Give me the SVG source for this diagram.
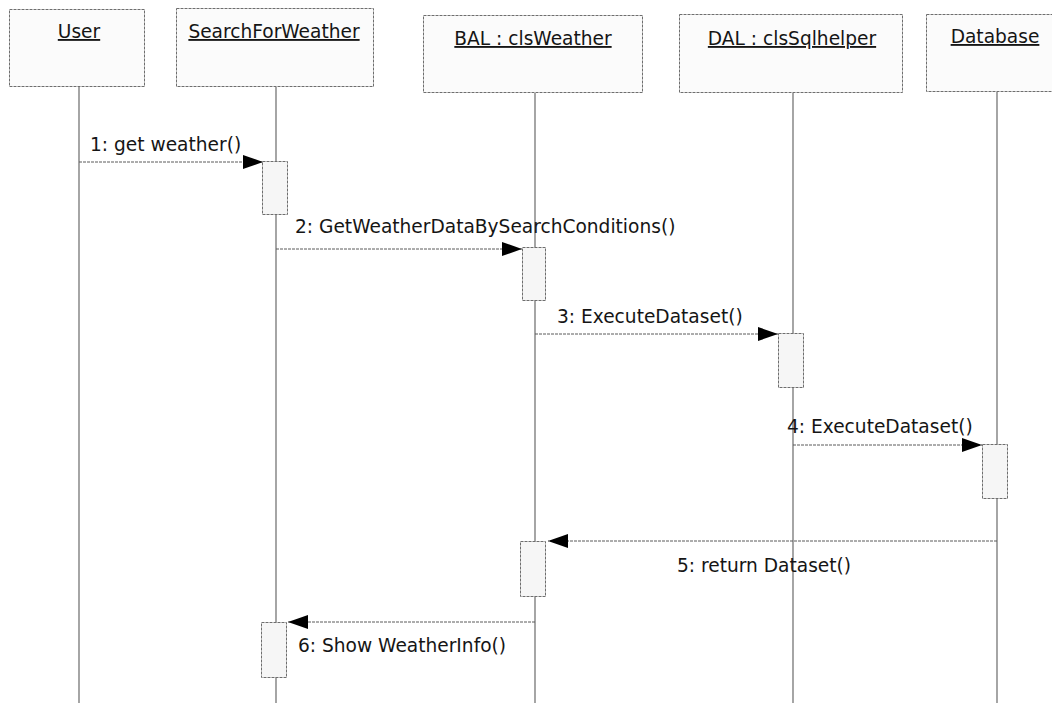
<svg xmlns="http://www.w3.org/2000/svg" width="1052" height="706" viewBox="0 0 1052 706">
  <style>
    .obj { fill: #fbfbfb; stroke: #6e6e6e; stroke-width: 1; stroke-dasharray: 3 1; }
    .act { fill: #f6f6f6; stroke: #6e6e6e; stroke-width: 1; stroke-dasharray: 3 1; }
    .life { stroke: #6a6a6a; stroke-width: 1.2; fill: none; }
    .msg { stroke: #5a5a5a; stroke-width: 1; stroke-dasharray: 3 1; fill: none; marker-end: url(#head); }
    .title { font-family: "DejaVu Sans", Verdana, sans-serif; font-size: 18.6px; fill: #151515; text-anchor: middle; text-decoration: underline; }
    .label { font-family: "DejaVu Sans", Verdana, sans-serif; font-size: 18.6px; fill: #151515; }
  </style>
  <defs>
    <marker id="head" markerUnits="userSpaceOnUse" markerWidth="20" markerHeight="14" refX="20" refY="7" orient="auto">
      <path d="M0,0 L20,7 L0,14 z" fill="#000"/>
    </marker>
  </defs>
  <rect width="1052" height="706" fill="#ffffff"/>

  <!-- lifelines -->
  <g id="lifelines">
    <line class="life" x1="79" y1="87" x2="79" y2="703"/>
    <line class="life" x1="276" y1="87" x2="276" y2="703"/>
    <line class="life" x1="535" y1="93" x2="535" y2="703"/>
    <line class="life" x1="793" y1="93" x2="793" y2="703"/>
    <line class="life" x1="997" y1="92" x2="997" y2="703"/>
  </g>

  <!-- objects -->
  <g id="user">
    <rect class="obj" x="9.5" y="9.5" width="135" height="77"/>
    <text class="title" x="79" y="38">User</text>
  </g>
  <g id="search-for-weather">
    <rect class="obj" x="176.5" y="8.5" width="197" height="78"/>
    <text class="title" x="274" y="38">SearchForWeather</text>
  </g>
  <g id="bal-clsweather">
    <rect class="obj" x="423.5" y="15.5" width="219" height="77"/>
    <text class="title" x="533" y="45">BAL : clsWeather</text>
  </g>
  <g id="dal-clssqlhelper">
    <rect class="obj" x="679.5" y="14.5" width="223" height="78"/>
    <text class="title" x="792" y="45">DAL : clsSqlhelper</text>
  </g>
  <g id="database">
    <rect class="obj" x="926.5" y="14.5" width="140" height="77"/>
    <text class="title" x="995" y="43">Database</text>
  </g>

  <!-- activation bars -->
  <g id="activations">
    <rect class="act" x="262.5" y="161.5" width="25" height="53"/>
    <rect class="act" x="522.5" y="247.5" width="23" height="53"/>
    <rect class="act" x="778.5" y="333.5" width="25" height="54"/>
    <rect class="act" x="982.5" y="444.5" width="25" height="54"/>
    <rect class="act" x="520.5" y="541.5" width="25" height="55"/>
    <rect class="act" x="261.5" y="622.5" width="25" height="55"/>
  </g>

  <!-- messages -->
  <g id="connectors">
    <line class="msg" x1="79" y1="162" x2="263" y2="162"/>
    <line class="msg" x1="276" y1="249" x2="522" y2="249"/>
    <line class="msg" x1="535" y1="334" x2="778" y2="334"/>
    <line class="msg" x1="793" y1="445" x2="982" y2="445"/>
    <line class="msg" x1="997" y1="541" x2="548" y2="541"/>
    <line class="msg" x1="535" y1="622" x2="288" y2="622"/>
  </g>

  <!-- message labels -->
  <g id="labels">
    <text class="label" x="90" y="151">1: get weather()</text>
    <text class="label" x="295" y="233">2: GetWeatherDataBySearchConditions()</text>
    <text class="label" x="557" y="323">3: ExecuteDataset()</text>
    <text class="label" x="787" y="433">4: ExecuteDataset()</text>
    <text class="label" x="677" y="572">5: return Dataset()</text>
    <text class="label" x="298" y="652">6: Show WeatherInfo()</text>
  </g>
</svg>
